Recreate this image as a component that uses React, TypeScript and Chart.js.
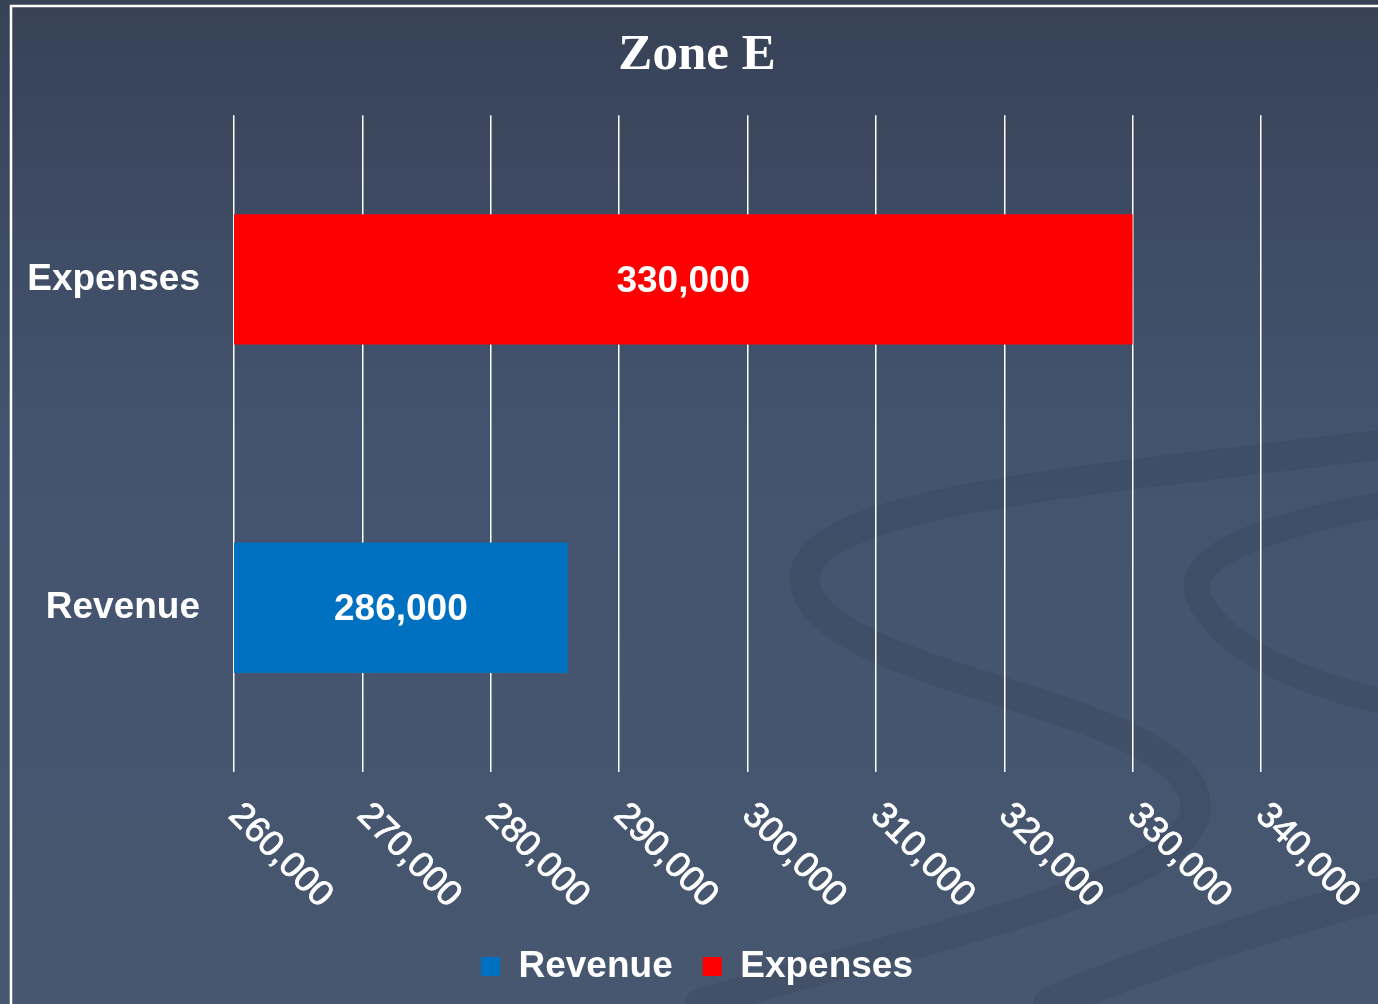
import React, { useEffect, useRef } from "react";
import { Chart, registerables } from "chart.js";

Chart.register(...registerables);

const titleText = "Zone E";
const categories = ["Expenses", "Revenue"];
const revenueValues = [null, 286000];
const expensesValues = [330000, null];
const xTicks = [260000, 270000, 280000, 290000, 300000, 310000, 320000, 330000, 340000];

const SANS = "'Liberation Sans', Arial, sans-serif";

const backgroundPlugin = {
  id: "bgPlugin",
  beforeDraw(chart: any) {
    const { ctx, width, height } = chart;
    ctx.save();
    const g = ctx.createLinearGradient(0, 0, 0, height);
    g.addColorStop(0, "#374256");
    g.addColorStop(0.45, "#445470");
    g.addColorStop(1, "#47576f");
    ctx.fillStyle = g;
    ctx.fillRect(0, 0, width, height);
    // faint swirl decoration
    ctx.strokeStyle = "rgba(50,62,80,0.24)";
    ctx.lineCap = "round";
    ctx.lineWidth = 30;
    ctx.beginPath();
    ctx.moveTo(1378, 445);
    ctx.bezierCurveTo(1100, 480, 800, 500, 805, 580);
    ctx.bezierCurveTo(810, 680, 1180, 700, 1195, 800);
    ctx.bezierCurveTo(1210, 880, 950, 930, 700, 1004);
    ctx.stroke();
    ctx.lineWidth = 26;
    ctx.beginPath();
    ctx.moveTo(1378, 505);
    ctx.bezierCurveTo(1250, 530, 1180, 560, 1200, 600);
    ctx.bezierCurveTo(1230, 660, 1330, 690, 1378, 700);
    ctx.stroke();
    ctx.lineWidth = 34;
    ctx.beginPath();
    ctx.moveTo(1378, 895);
    ctx.bezierCurveTo(1300, 915, 1150, 960, 1050, 1004);
    ctx.stroke();
    // white frame
    ctx.strokeStyle = "#ffffff";
    ctx.lineWidth = 2.5;
    ctx.beginPath();
    ctx.moveTo(11, 1010);
    ctx.lineTo(11, 6);
    ctx.lineTo(1390, 6);
    ctx.stroke();
    ctx.restore();
  },
};

const labelsPlugin = {
  id: "labelsPlugin",
  afterDraw(chart: any) {
    const { ctx } = chart;
    const xScale = chart.scales.x;
    ctx.save();
    ctx.fillStyle = "#ffffff";
    ctx.strokeStyle = "#ffffff";
    // rotated tick labels
    ctx.font = `36px ${SANS}`;
    ctx.textAlign = "left";
    ctx.textBaseline = "top";
    ctx.lineWidth = 0.8;
    xTicks.forEach((v) => {
      const px = xScale.getPixelForValue(v);
      ctx.save();
      ctx.translate(px + 13, 797);
      ctx.rotate(Math.PI / 4);
      const s = v.toLocaleString("en-US");
      ctx.fillText(s, 0, 0);
      ctx.strokeText(s, 0, 0);
      ctx.restore();
    });
    // value labels centered in bars
    ctx.font = `bold 37px ${SANS}`;
    ctx.textAlign = "center";
    ctx.textBaseline = "middle";
    chart.data.datasets.forEach((ds: any, di: number) => {
      const meta = chart.getDatasetMeta(di);
      meta.data.forEach((bar: any, i: number) => {
        const val = ds.data[i];
        if (val == null) return;
        const start = Math.max(bar.base, chart.chartArea.left);
        const cx = (start + bar.x) / 2;
        ctx.fillText(val.toLocaleString("en-US"), cx, bar.y + 2);
      });
    });
    ctx.restore();
  },
};

export default function App() {
  const canvasRef = useRef<HTMLCanvasElement | null>(null);

  useEffect(() => {
    document.body.style.margin = "0";
    const canvas = canvasRef.current;
    if (!canvas) return;
    const chart = new Chart(canvas, {
      type: "bar",
      data: {
        labels: categories,
        datasets: [
          {
            label: "Revenue",
            data: revenueValues,
            backgroundColor: "#0070C0",
            borderWidth: 0,
          },
          {
            label: "Expenses",
            data: expensesValues,
            backgroundColor: "#FF0000",
            borderWidth: 0,
          },
        ],
      },
      options: {
        indexAxis: "y",
        responsive: false,
        animation: false,
        devicePixelRatio: 1,
        barPercentage: 0.397,
        categoryPercentage: 1,
        layout: { padding: { left: 16, right: 0, top: 0, bottom: 9 } },
        scales: {
          x: {
            stacked: true,
            min: 260000,
            max: 340000,
            ticks: { display: false, stepSize: 10000 },
            grid: {
              color: "#ffffff",
              lineWidth: 1.5,
              drawTicks: false,
            },
            border: { display: false },
            afterFit: (scale: any) => {
              scale.height = 146;
            },
          },
          y: {
            stacked: true,
            grid: { display: false, drawTicks: false },
            border: { display: false },
            ticks: {
              color: "#ffffff",
              font: { family: SANS, size: 37, weight: "bold" },
              padding: 34,
            },
            afterFit: (scale: any) => {
              scale.width = 218;
            },
          },
          yRight: {
            type: "category",
            position: "right",
            display: true,
            grid: { display: false, drawTicks: false },
            border: { display: false },
            ticks: { display: false },
            afterFit: (scale: any) => {
              scale.width = 117;
            },
          },
        },
        plugins: {
          title: {
            display: true,
            text: titleText,
            color: "#ffffff",
            font: { family: "'Liberation Serif', 'Times New Roman', serif", size: 51, weight: "bold" },
            padding: { top: 25, bottom: 29 },
          },
          legend: {
            display: true,
            position: "bottom",
            labels: {
              color: "#ffffff",
              font: { family: SANS, size: 37, weight: "bold" },
              boxWidth: 19,
              boxHeight: 19,
              padding: 30,
            },
          },
          tooltip: { enabled: false },
        },
      },
      plugins: [backgroundPlugin, labelsPlugin],
    });
    return () => chart.destroy();
  }, []);

  return (
    <div style={{ position: "fixed", left: 0, top: 0, width: 1378, height: 1004 }}>
      <canvas ref={canvasRef} width={1378} height={1004} style={{ display: "block" }} />
    </div>
  );
}
